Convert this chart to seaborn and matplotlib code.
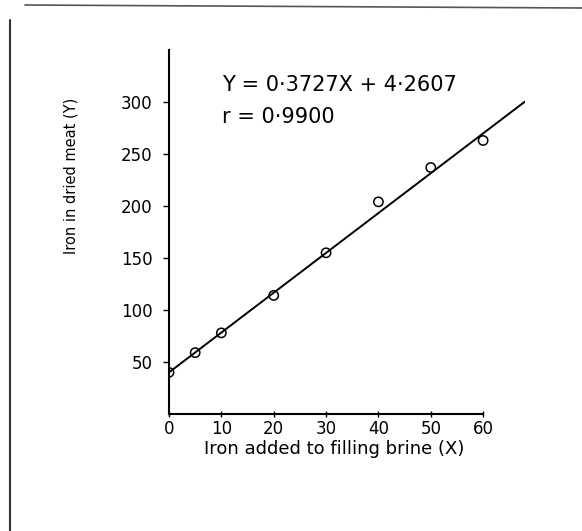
import numpy as np
import pandas as pd
import matplotlib
matplotlib.use("Agg")
import matplotlib.pyplot as plt
from matplotlib.lines import Line2D
import seaborn as sns

# values
iron_added = [0, 5, 10, 20, 30, 40, 50, 60]
iron_dried = [40, 59, 78, 114, 155, 204, 237, 263]
x_ticks = [0, 10, 20, 30, 40, 50, 60]
y_ticks = [50, 100, 150, 200, 250, 300]

# fitted line as drawn on the figure
fit_intercept = 40
fit_slope = 3.83
fit_x_end = 68

eq_text = "Y = 0·3727X + 4·2607"
r_text = "r = 0·9900"

sns.set_style("ticks")
plt.rcParams['font.family'] = ['DejaVu Sans']
plt.rcParams['text.color'] = 'black'

fig = plt.figure(figsize=(5.82, 5.31), dpi=100)
ax = fig.add_axes([169 / 582, 1 - 414 / 531, 356 / 582, 364 / 531])

df = pd.DataFrame({"x": iron_added, "y": iron_dried})
fit_df = pd.DataFrame({"x": [0, fit_x_end]})
fit_df["y"] = fit_intercept + fit_slope * fit_df["x"]

sns.lineplot(data=fit_df, x="x", y="y", ax=ax, color="black", lw=1.4)
sns.scatterplot(data=df, x="x", y="y", ax=ax, marker="o", s=45,
                facecolor="none", edgecolor="black", linewidth=1.1, zorder=3)

ax.set_xlim(0, fit_x_end)
ax.set_ylim(0, 350)
ax.set_xticks(x_ticks)
ax.set_yticks(y_ticks)
ax.tick_params(axis="both", labelsize=12, color="black", labelcolor="black",
               width=1, length=4)
ax.tick_params(axis="y", direction="out", pad=8)
ax.tick_params(axis="x", direction="inout", pad=2)

for s in ["top", "right"]:
    ax.spines[s].set_visible(False)
for s in ["left", "bottom"]:
    ax.spines[s].set_linewidth(1.5)
    ax.spines[s].set_color("black")
ax.spines["bottom"].set_bounds(0, 60)

ax.set_xlabel("Iron added to filling brine (X)", fontsize=13, color="black")
ax.set_ylabel("Iron in dried meat (Y)", fontsize=10.5, color="black")
ax.xaxis.set_label_coords(0.463, -0.072)
ax.yaxis.set_label_coords(-0.255, 0.655)

text_x = (222 - 169) / 356
ax.text(text_x, (414 - 85) / 364, eq_text, transform=ax.transAxes,
        fontsize=15, va="center")
ax.text(text_x, (414 - 117) / 364, r_text, transform=ax.transAxes,
        fontsize=15, va="center")

# scan border edges
fig.add_artist(Line2D([10 / 582, 10 / 582], [0, 1 - 20 / 531], color="#333333",
                      lw=1.5, transform=fig.transFigure))
fig.add_artist(Line2D([25 / 582, 1], [1 - 5 / 531, 1 - 8 / 531], color="#555555",
                      lw=1.2, transform=fig.transFigure))

fig.savefig("out.png", dpi=100)
